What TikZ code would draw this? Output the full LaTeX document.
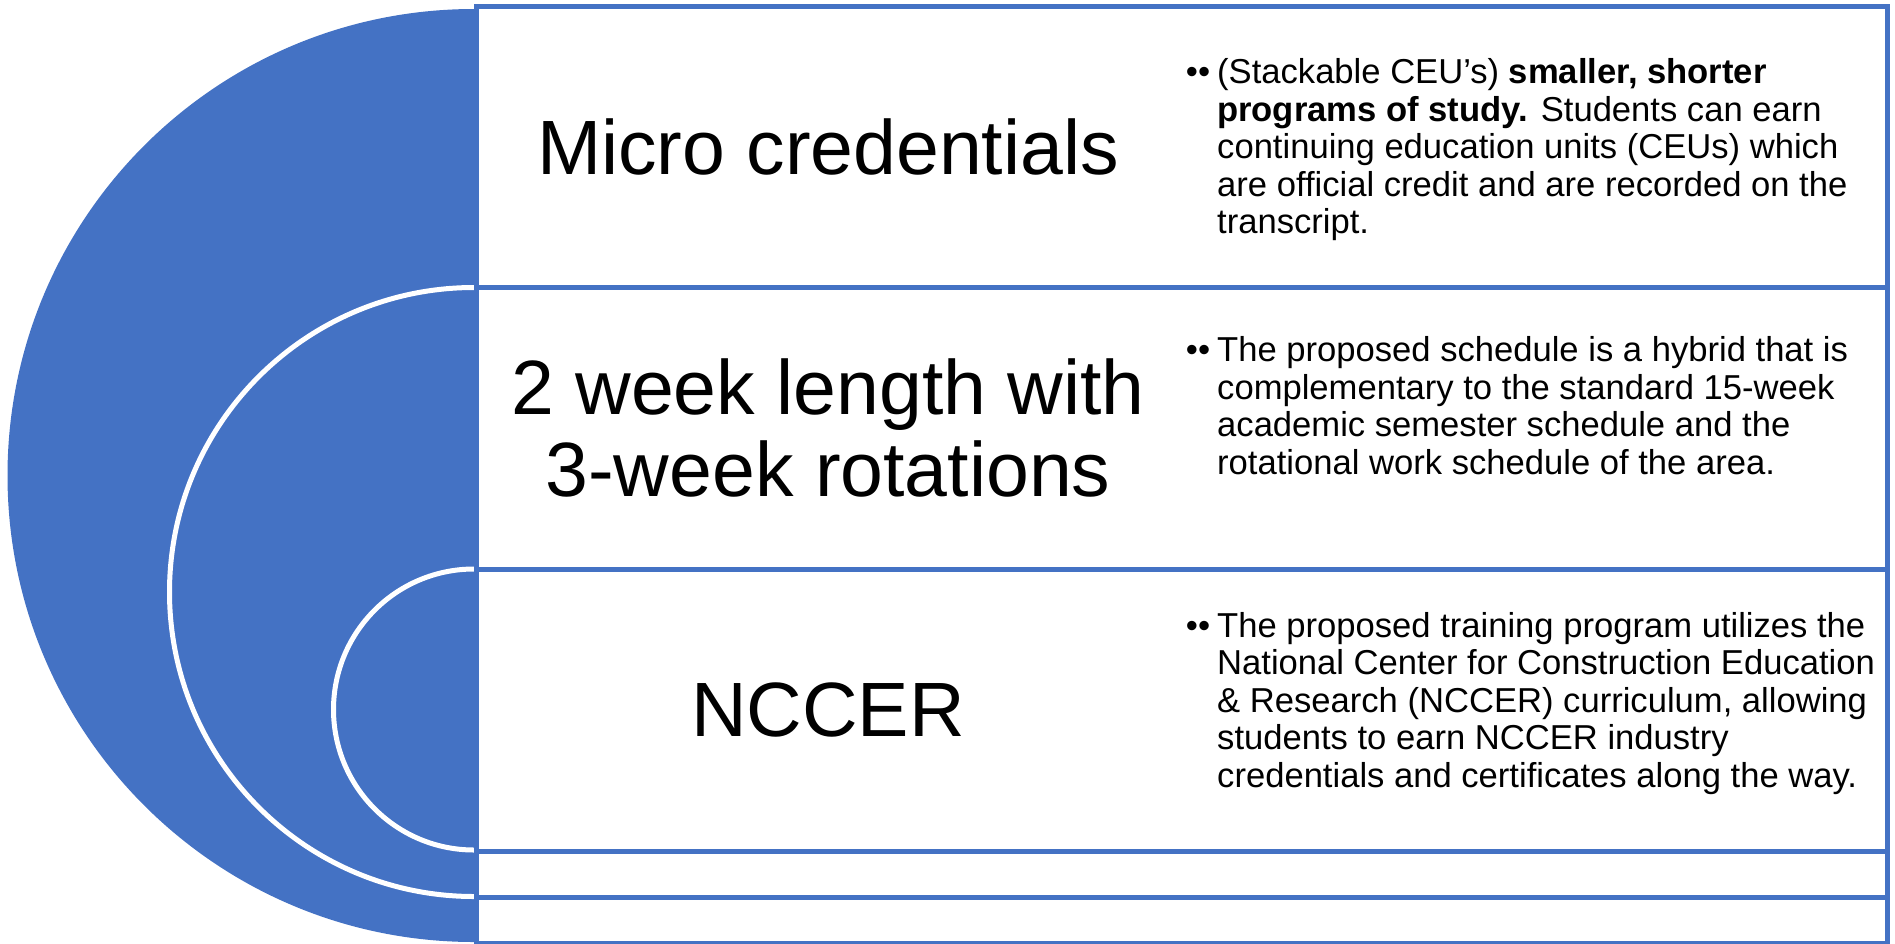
\documentclass[tikz,border=0pt]{standalone}
\usepackage{fontspec}
\setmainfont{Liberation Sans}
\definecolor{ringblue}{RGB}{68,114,196}
\begin{document}
\begin{tikzpicture}[x=1pt,y=-1pt,
  ring line/.style={draw=white,line width=5pt},
  row box/.style={draw=ringblue,line width=5pt,fill=white},
  title node/.style={font=\fontsize{77}{82}\selectfont,align=center,inner sep=0pt},
  desc node/.style={font=\fontsize{34.6}{37.6}\selectfont,align=left,anchor=base west,inner sep=0pt}]

  \useasboundingbox (0,0) rectangle (1895,943);

  \fill[ringblue] (474,9) arc[start angle=270,end angle=90,radius=466.5] -- cycle;
  \draw[ring line] (474,287.5) arc[start angle=270,end angle=90,radius=304.5];
  \draw[ring line] (474,569) arc[start angle=270,end angle=90,radius=140.5];

  \draw[row box] (476,6) rectangle (1887,287.5);
  \draw[row box] (476,287.5) rectangle (1887,569);
  \draw[row box] (476,569) rectangle (1887,851);
  \draw[row box] (476,851) rectangle (1887,897);
  \draw[row box] (476,897) rectangle (1887,943);

  \node[title node] (micro) at (828,147) {Micro credentials};
  \node[title node] (weeks) at (828,428) {2 week length with\\3-week rotations};
  \node[title node] (nccer) at (828,710) {NCCER};

  % base anchor sits on the last line
  \node[desc node] (microtext) at (1217,233.9) {\llap{••\hspace{7pt}}(Stackable CEU’s) \textbf{smaller, shorter}\\
    \textbf{programs of study.} Students can earn\\
    continuing education units (CEUs) which\\
    are official credit and are recorded on the\\
    transcript.};
  \node[desc node] (weekstext) at (1217,474.5) {\llap{••\hspace{7pt}}The proposed schedule is a hybrid that is\\
    complementary to the standard 15-week\\
    academic semester schedule and the\\
    rotational work schedule of the area.};
  \node[desc node] (nccertext) at (1217,787.4) {\llap{••\hspace{7pt}}The proposed training program utilizes the\\
    National Center for Construction Education\\
    \& Research (NCCER) curriculum, allowing\\
    students to earn NCCER industry\\
    credentials and certificates along the way.};
\end{tikzpicture}
\end{document}
